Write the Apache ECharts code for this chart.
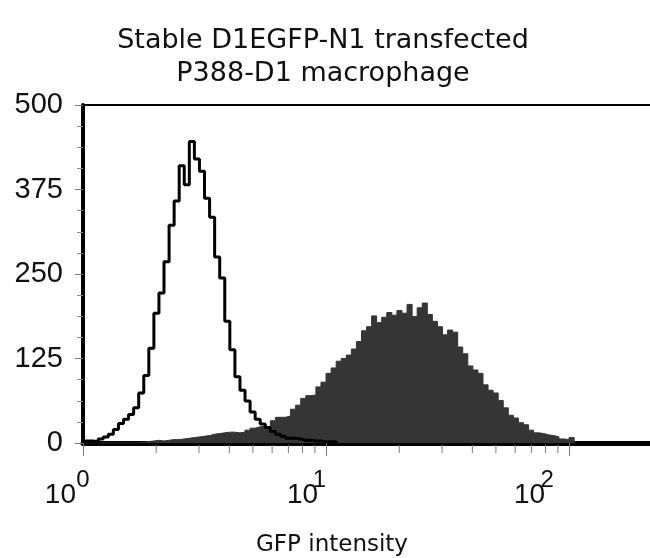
<!DOCTYPE html>
<html>
<head>
<meta charset="utf-8">
<title>Stable D1EGFP-N1 transfected P388-D1 macrophage</title>
<script src="https://cdn.jsdelivr.net/npm/echarts@6/dist/echarts.min.js"></script>
<style>
  html, body { margin: 0; padding: 0; background: #fff; }
  #chart { width: 650px; height: 558px; }
</style>
</head>
<body>
<div id="chart"></div>
<script>
// Histogram bins: 48 bins per decade of GFP intensity, starting at 10^0.
const binsPerDecade = 48;

// Untransfected control (open histogram), counts per bin
const controlCounts = [
  3, 3, 2, 6, 9, 13, 20, 29, 35, 42,
  52, 74, 100, 140, 192, 222, 268, 322, 358, 410,
  382, 446, 420, 402, 362, 334, 275, 244, 180, 138,
  98, 78, 62, 46, 35, 28, 23, 17, 13, 10,
  7, 7, 6, 4, 4, 3, 3, 2, 2, 2
];

// Stable D1EGFP-N1 transfectants (filled histogram), counts per bin
const transfectedCounts = [
  0, 0, 0, 0, 0, 0, 0, 0, 0, 0,
  0, 1, 2, 3, 4, 3, 4, 5, 5, 6,
  7, 8, 9, 10, 11, 13, 14, 15, 16, 16,
  15, 16, 19, 22, 24, 25, 24, 33, 38, 38,
  40, 50, 56, 66, 70, 71, 83, 90, 103, 111,
  121, 125, 130, 139, 150, 166, 172, 188, 178, 186,
  193, 189, 196, 192, 205, 187, 200, 207, 190, 180,
  172, 160, 167, 164, 142, 132, 114, 108, 103, 86,
  78, 74, 63, 52, 41, 37, 30, 27, 19, 15,
  14, 12, 11, 9, 6, 5, 8
];

// Axis ticks
const decadeTicks = [0, 1, 2];           // exponents of the labelled decades
const minorTickValues = [2, 3, 4, 5, 6, 7, 8, 9, 20, 30, 40, 50, 60, 70, 80, 90];
const yTicks = [0, 125, 250, 375, 500];

const titleLines = ['Stable D1EGFP-N1 transfected', 'P388-D1 macrophage'];
const xTitle = 'GFP intensity';

// Bin left edges in decades; a closing point drops the step back to zero.
function stepPoints(counts) {
  const pts = counts.map((v, i) => [i / binsPerDecade, v]);
  pts.push([counts.length / binsPerDecade, 0]);
  return pts;
}

const chart = echarts.init(document.getElementById('chart'), null, { renderer: 'canvas' });

const WIDE = '"DejaVu Sans", "Liberation Sans", Arial, sans-serif';
const NARROW = '"Liberation Sans", Arial, sans-serif';
const xMax = 2.333;

// per-decade label offsets (the base and exponent are drawn by two axes)
const baseRich = {
  d0: { fontFamily: NARROW, fontSize: 28, color: '#111', padding: [0, 7, 0, 0] },
  d1: { fontFamily: NARROW, fontSize: 28, color: '#111', padding: [0, 8, 0, 0] },
  d2: { fontFamily: NARROW, fontSize: 28, color: '#111', padding: [0, 24, 0, 0] }
};
const expRich = {
  e0: { fontFamily: NARROW, fontSize: 24, color: '#111', padding: [0, 0, 0, 0] },
  e1: { fontFamily: NARROW, fontSize: 24, color: '#111', padding: [0, 13, 0, 0] },
  e2: { fontFamily: NARROW, fontSize: 24, color: '#111', padding: [0, 44, 0, 0] }
};

chart.setOption({
  animation: false,
  backgroundColor: '#ffffff',
  title: [
    {
      text: titleLines.join('\n'),
      left: 318,
      top: 19,
      textAlign: 'center',
      textStyle: { fontFamily: WIDE, fontSize: 27, fontWeight: 'normal', color: '#111', lineHeight: 33 }
    },
    {
      text: xTitle,
      left: 327,
      top: 529,
      textAlign: 'center',
      textStyle: { fontFamily: WIDE, fontSize: 23, fontWeight: 'normal', color: '#111' }
    }
  ],
  grid: { left: 83, right: 0, top: 105, bottom: 115, containLabel: false },
  xAxis: [
    {
      type: 'value',
      min: 0,
      max: xMax,
      interval: 1,
      position: 'bottom',
      axisLine: { show: true, onZero: false, lineStyle: { color: '#000', width: 5 } },
      axisTick: { show: true, length: 13, lineStyle: { color: '#7a7a7a', width: 1 } },
      splitLine: { show: false },
      axisLabel: {
        show: true,
        margin: 38,
        align: 'right',
        showMaxLabel: false,
        rich: baseRich,
        formatter: v => (decadeTicks.indexOf(v) >= 0 ? '{d' + v + '|10}' : '')
      }
    },
    {
      type: 'value',
      min: 0,
      max: xMax,
      position: 'top',
      axisLine: { show: true, onZero: false, lineStyle: { color: '#000', width: 2 } },
      axisTick: { show: false },
      axisLabel: { show: false },
      splitLine: { show: false }
    },
    {
      type: 'value',
      min: 0,
      max: xMax,
      interval: 1,
      position: 'bottom',
      axisLine: { show: false },
      axisTick: { show: false },
      splitLine: { show: false },
      axisLabel: {
        show: true,
        margin: 25,
        align: 'center',
        showMaxLabel: false,
        rich: expRich,
        formatter: v => (decadeTicks.indexOf(v) >= 0 ? '{e' + v + '|' + v + '}' : '')
      }
    }
  ],
  yAxis: {
    type: 'value',
    min: 0,
    max: 500,
    interval: 125,
    axisLine: { show: true, lineStyle: { color: '#000', width: 4 } },
    axisTick: { show: true, length: 8, lineStyle: { color: '#7a7a7a', width: 1 } },
    minorTick: { show: true, splitNumber: 4, length: 6, lineStyle: { color: '#8a8a8a', width: 1 } },
    splitLine: { show: false },
    axisLabel: {
      margin: 20,
      fontFamily: NARROW,
      fontSize: 29,
      color: '#111',
      formatter: v => (yTicks.indexOf(v) >= 0 ? String(v) : '')
    }
  },
  series: [
    {
      name: 'D1EGFP-N1',
      type: 'line',
      step: 'end',
      symbol: 'none',
      data: stepPoints(transfectedCounts),
      lineStyle: { color: '#333333', width: 1 },
      areaStyle: { color: '#353535', opacity: 1 },
      z: 2
    },
    {
      name: 'Control',
      type: 'line',
      step: 'end',
      symbol: 'none',
      data: stepPoints(controlCounts),
      lineStyle: { color: '#000000', width: 3 },
      z: 3
    },
    {
      // minor ticks of the logarithmic intensity axis
      name: 'minorTicks',
      type: 'custom',
      clip: false,
      silent: true,
      data: minorTickValues.map(v => [Math.log10(v), 0]),
      renderItem: function (params, api) {
        const p = api.coord([api.value(0), 0]);
        return {
          type: 'line',
          shape: { x1: p[0], y1: p[1] + 2, x2: p[0], y2: p[1] + 10 },
          style: { stroke: '#7a7a7a', lineWidth: 1 }
        };
      },
      z: 1
    }
  ]
});
</script>
</body>
</html>
